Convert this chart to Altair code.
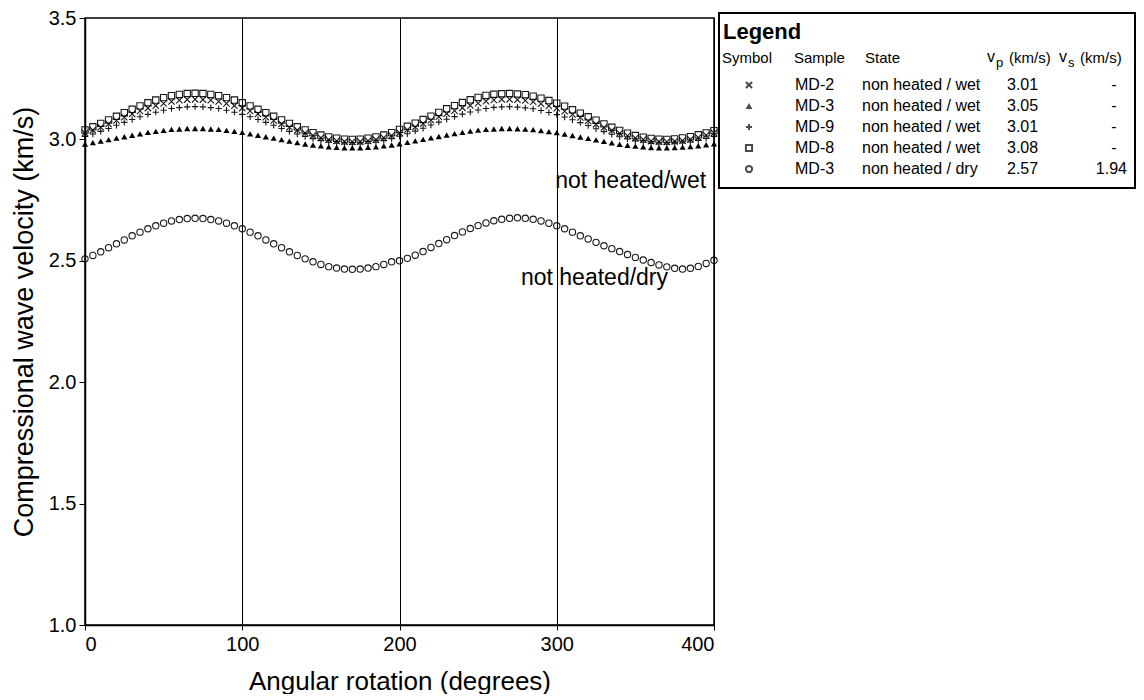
import altair as alt
import pandas as pd

# ---------------- data ----------------
angles = list(range(0, 401, 5))

md8_wet = [3.039,3.052,3.066,3.080,3.095,3.110,3.124,3.138,3.151,3.162,3.172,3.180,3.185,3.189,3.190,3.189,3.185,3.180,3.172,3.162,
           3.151,3.138,3.124,3.110,3.095,3.080,3.066,3.052,3.039,3.028,3.018,3.010,3.005,3.001,3.000,3.001,3.005,3.010,3.018,3.028,
           3.041,3.054,3.067,3.082,3.096,3.111,3.126,3.139,3.152,3.163,3.173,3.181,3.186,3.188,3.189,3.187,3.184,3.178,3.170,3.160,
           3.149,3.137,3.122,3.108,3.093,3.079,3.064,3.050,3.037,3.026,3.016,3.009,3.004,3.001,3.000,3.002,3.006,3.011,3.019,3.027,
           3.036]
md2_wet = [3.026,3.038,3.050,3.064,3.078,3.091,3.105,3.117,3.129,3.139,3.148,3.156,3.161,3.164,3.165,3.164,3.161,3.156,3.148,3.139,
           3.129,3.117,3.105,3.091,3.078,3.064,3.050,3.038,3.026,3.016,3.007,2.999,2.994,2.991,2.990,2.991,2.994,2.999,3.007,3.016,
           3.027,3.040,3.051,3.065,3.079,3.093,3.106,3.118,3.130,3.140,3.149,3.157,3.162,3.165,3.165,3.163,3.160,3.155,3.147,3.138,
           3.128,3.116,3.103,3.090,3.076,3.062,3.049,3.037,3.025,3.015,3.006,2.999,2.993,2.991,2.990,2.992,2.995,3.000,3.008,3.017,
           3.026]
md9_wet = [3.012,3.022,3.033,3.045,3.058,3.070,3.082,3.093,3.103,3.112,3.120,3.127,3.131,3.134,3.135,3.134,3.131,3.127,3.120,3.112,
           3.103,3.093,3.082,3.070,3.058,3.045,3.033,3.022,3.012,3.003,2.995,2.988,2.984,2.981,2.980,2.981,2.984,2.988,2.995,3.003,
           3.013,3.023,3.034,3.046,3.059,3.071,3.083,3.094,3.104,3.113,3.121,3.127,3.132,3.134,3.135,3.133,3.130,3.126,3.119,3.111,
           3.102,3.092,3.081,3.069,3.057,3.044,3.032,3.021,3.011,3.002,2.994,2.988,2.983,2.981,2.980,2.982,2.985,2.989,2.996,3.004,
           3.012]
md3_wet = [2.981,2.987,2.993,2.999,3.005,3.011,3.017,3.023,3.029,3.033,3.037,3.041,3.043,3.045,3.045,3.045,3.043,3.041,3.037,3.033,
           3.029,3.023,3.017,3.011,3.005,2.999,2.993,2.987,2.981,2.977,2.973,2.969,2.967,2.965,2.965,2.965,2.967,2.969,2.973,2.977,
           2.982,2.988,2.994,3.000,3.006,3.012,3.018,3.024,3.029,3.034,3.038,3.041,3.043,3.045,3.045,3.044,3.042,3.040,3.036,3.032,
           3.028,3.022,3.016,3.010,3.004,2.998,2.992,2.986,2.980,2.976,2.972,2.969,2.966,2.965,2.965,2.966,2.968,2.970,2.974,2.978,
           2.982]
md3_dry = [2.508,2.522,2.537,2.554,2.570,2.586,2.603,2.618,2.632,2.644,2.655,2.664,2.670,2.674,2.675,2.674,2.670,2.664,2.655,2.644,
           2.632,2.618,2.603,2.586,2.570,2.554,2.537,2.522,2.508,2.496,2.485,2.476,2.470,2.466,2.465,2.466,2.470,2.476,2.485,2.496,
           2.500,2.510,2.523,2.538,2.555,2.571,2.587,2.604,2.619,2.633,2.645,2.656,2.665,2.671,2.675,2.677,2.675,2.671,2.664,2.655,
           2.644,2.632,2.618,2.603,2.590,2.576,2.562,2.550,2.538,2.526,2.514,2.503,2.493,2.483,2.475,2.469,2.466,2.469,2.477,2.489,
           2.502]

series_keys = ["MD-2 wet", "MD-3 wet", "MD-9 wet", "MD-8 wet", "MD-3 dry"]
series_vals = [md2_wet, md3_wet, md9_wet, md8_wet, md3_dry]

leg_sample = ["MD-2", "MD-3", "MD-9", "MD-8", "MD-3"]
leg_state = ["non heated / wet", "non heated / wet", "non heated / wet", "non heated / wet", "non heated / dry"]
leg_vp = ["3.01", "3.05", "3.01", "3.08", "2.57"]
leg_vs = ["-", "-", "-", "-", "1.94"]

annot_text = ["not heated/wet", "not heated/dry"]
annot_x = [347, 324]
annot_y = [2.83, 2.43]

x_ticks = [0, 100, 200, 300, 400]
y_ticks = [1.0, 1.5, 2.0, 2.5, 3.0, 3.5]

# ---------------- build ----------------
rows = []
for key, vals in zip(series_keys, series_vals):
    for a, v in zip(angles, vals):
        rows.append({"angle": a, "velocity": v, "series": key})
df = pd.DataFrame(rows)

shape_range = ["M-1,-1L1,1M-1,1L1,-1", "triangle-up", "M-1,0L1,0M0,-1L0,1", "square", "circle"]
shape_scale = alt.Scale(domain=series_keys, range=shape_range)

FONT = "Liberation Sans"

xenc = alt.X("angle:Q", title="Angular rotation (degrees)",
             scale=alt.Scale(domain=[0, 400], nice=False),
             axis=alt.Axis(values=x_ticks, grid=True, gridColor="black", gridWidth=1,
                           tickSize=5, labelPadding=4, titlePadding=14,
                           labelFontSize=20, titleFontSize=26))
yenc = alt.Y("velocity:Q", title="Compressional wave velocity (km/s)",
             scale=alt.Scale(domain=[1.0, 3.5], nice=False),
             axis=alt.Axis(values=y_ticks, format=".1f", grid=False,
                           tickSize=6, labelPadding=3, titlePadding=10,
                           labelFontSize=20, titleFontSize=27))

open_pts = alt.Chart(df).transform_filter(alt.datum.series != "MD-3 wet").mark_point(
    filled=False, color="black", strokeWidth=1.1, size=40, opacity=0.9
).encode(x=xenc, y=yenc, shape=alt.Shape("series:N", scale=shape_scale, legend=None))

tri_pts = alt.Chart(df).transform_filter(alt.datum.series == "MD-3 wet").mark_point(
    filled=True, color="black", size=38, opacity=1
).encode(x="angle:Q", y="velocity:Q", shape=alt.Shape("series:N", scale=shape_scale, legend=None))

annot_df = pd.DataFrame({"text": annot_text, "x": annot_x, "y": annot_y})
annots = alt.Chart(annot_df).mark_text(
    fontSize=23, align="center", baseline="middle", color="black", font=FONT
).encode(x="x:Q", y="y:Q", text="text:N")

dummy = pd.DataFrame({"d": [0]})


def label(txt, x, y, size=16, weight="normal", align="left"):
    return alt.Chart(dummy).mark_text(
        text=txt, fontSize=size, fontWeight=weight, align=align, baseline="middle",
        color="black", font=FONT
    ).encode(x=alt.value(x), y=alt.value(y))


legend_layers = []
legend_layers.append(
    alt.Chart(dummy).mark_rect(fillOpacity=0, stroke="black", strokeWidth=2).encode(
        x=alt.value(634), x2=alt.value(1050), y=alt.value(-5), y2=alt.value(170))
)
legend_layers.append(label("Legend", 638, 14, size=22, weight="bold"))
hy = 40
legend_layers += [
    label("Symbol", 637, hy, size=15),
    label("Sample", 709, hy, size=15),
    label("State", 780, hy, size=15),
    label("v", 902, hy - 1, size=16),
    label("p", 911, hy + 5, size=13),
    label("(km/s)", 924, hy, size=15),
    label("v", 974, hy - 1, size=16),
    label("s", 983, hy + 5, size=13),
    label("(km/s)", 995, hy, size=15),
]

leg_df = pd.DataFrame({"key": series_keys, "sample": leg_sample, "state": leg_state,
                       "vp": leg_vp, "vs": leg_vs})
for i, key in enumerate(series_keys):
    ry = 67 + 21 * i
    sub = alt.Chart(leg_df).transform_filter(alt.datum.key == key)
    if key == "MD-3 wet":
        legend_layers.append(sub.mark_point(filled=True, color="black", size=45, shape="triangle-up")
                             .encode(x=alt.value(664), y=alt.value(ry)))
    else:
        legend_layers.append(sub.mark_point(filled=False, color="black", strokeWidth=2, size=38,
                                            shape=shape_range[i])
                             .encode(x=alt.value(664), y=alt.value(ry)))
    for field, xx, al in [("sample", 710, "left"), ("state", 777, "left"), ("vp", 922, "left")]:
        legend_layers.append(sub.mark_text(fontSize=16, align=al, baseline="middle", color="black", font=FONT)
                             .encode(x=alt.value(xx), y=alt.value(ry), text=f"{field}:N"))
    vsx = 1029 if leg_vs[i] == "-" else 1042
    vsal = "center" if leg_vs[i] == "-" else "right"
    legend_layers.append(sub.mark_text(fontSize=16, align=vsal, baseline="middle", color="black", font=FONT)
                         .encode(x=alt.value(vsx), y=alt.value(ry), text="vs:N"))

chart = alt.layer(open_pts, tri_pts, annots, *legend_layers).properties(
    width=629, height=607,
    padding={"left": 2, "top": 0, "right": 0, "bottom": 0},
).configure(font=FONT).configure_view(
    stroke="black", strokeWidth=1.5
).configure_axis(
    domainColor="black", tickColor="black", labelColor="black", titleColor="black",
    labelFont=FONT, titleFont=FONT, titleFontWeight="normal", domainWidth=1.5,
)

chart.save("out.html", embed_options={"renderer": "svg", "actions": False})
